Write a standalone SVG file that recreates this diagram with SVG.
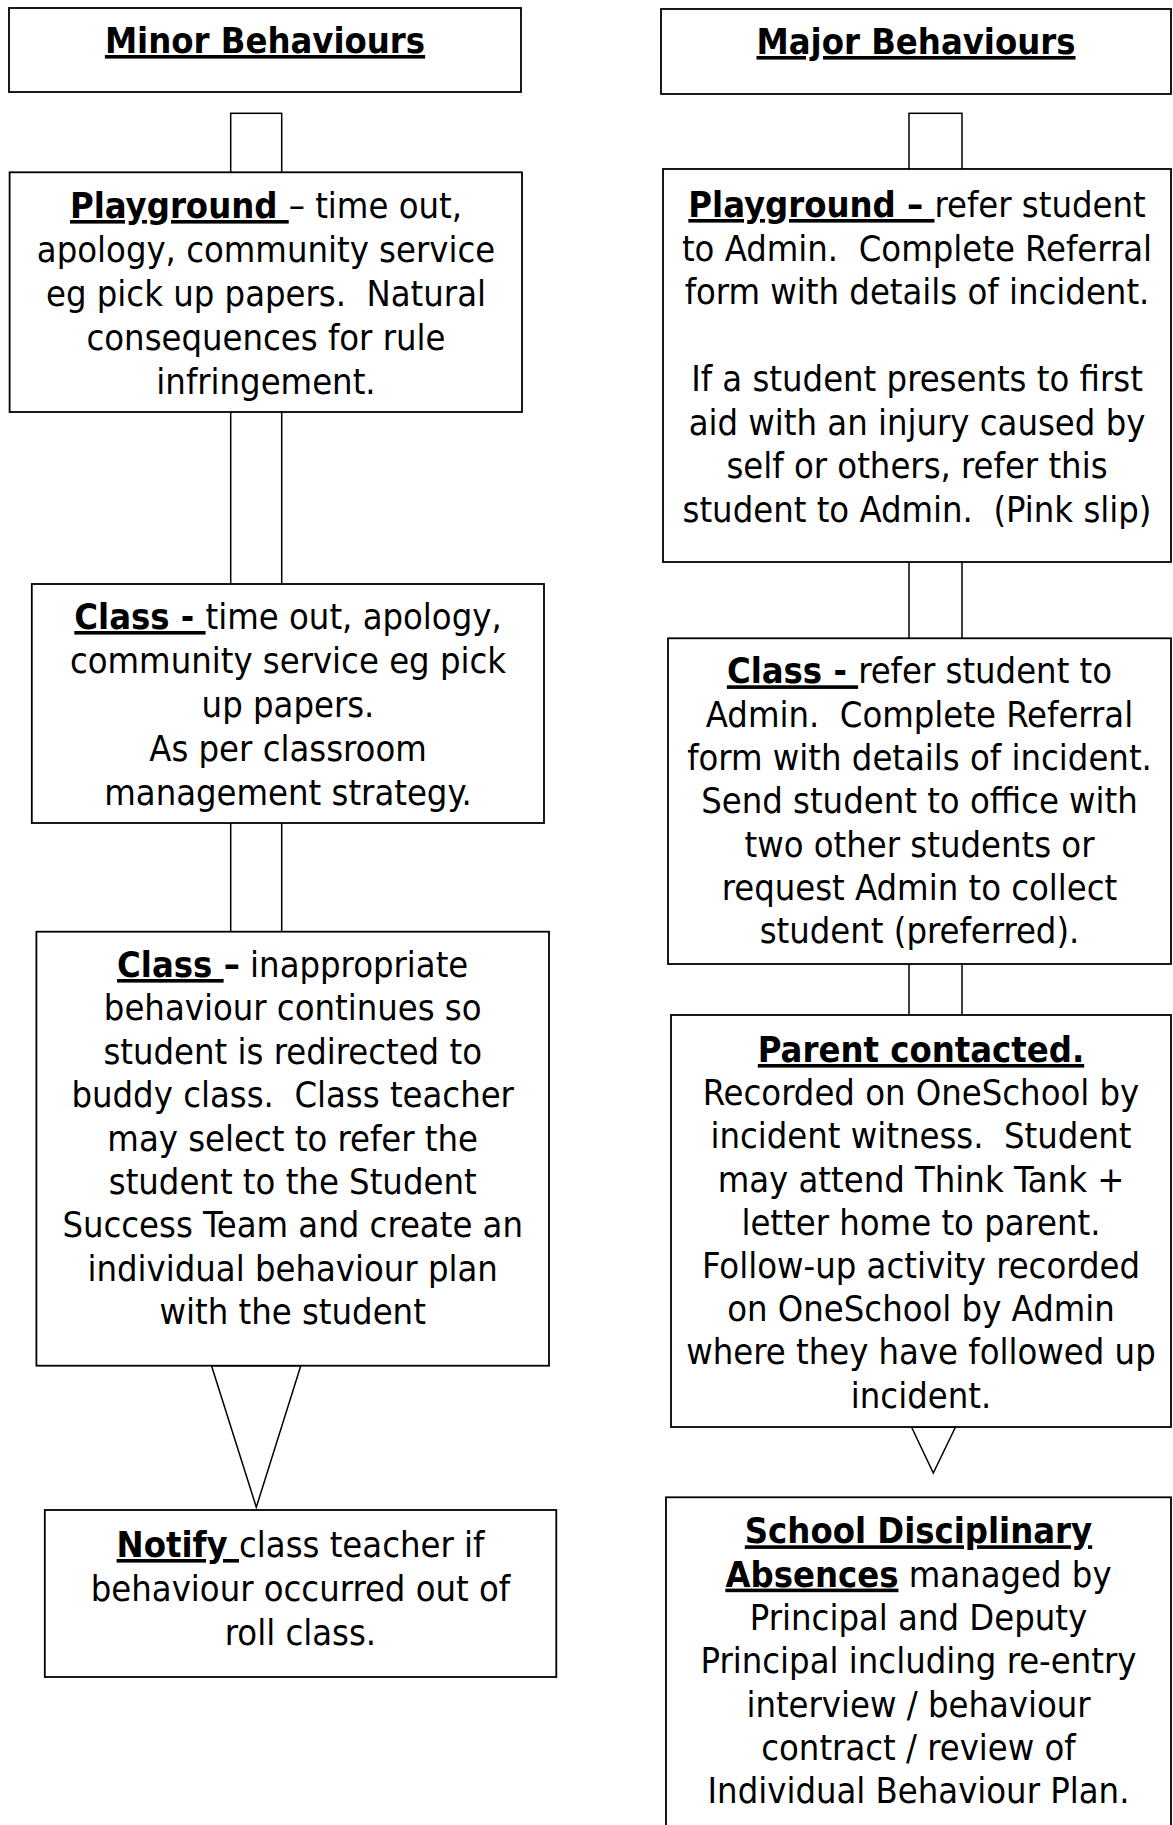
<svg xmlns="http://www.w3.org/2000/svg" width="1173" height="1825" viewBox="0 0 1173 1825">
<style>
.box{fill:#fff;stroke:#000;stroke-width:1.8}
.con{fill:#fff;stroke:#000;stroke-width:1.5}
text{font-family:"DejaVu Sans Condensed","DejaVu Sans",sans-serif;font-stretch:condensed;font-size:36px;fill:#000;text-anchor:middle}
.b{font-weight:bold}
.u{text-decoration:underline}
</style>
<rect x="0" y="0" width="1173" height="1825" fill="#fff"/>
<g id="connectors">
<rect class="con" x="230.7" y="113.3" width="51" height="80"/>
<rect class="con" x="230.7" y="390" width="51" height="210"/>
<rect class="con" x="230.7" y="800" width="51" height="150"/>
<polygon class="con" points="211.5,1365.7 256.3,1507.3 300.8,1365.7"/>
<rect class="con" x="909" y="113.3" width="53" height="80"/>
<rect class="con" x="909" y="540" width="53" height="120"/>
<rect class="con" x="909" y="940" width="53" height="90"/>
<polygon class="con" points="911.5,1427 933.3,1473 955.5,1427"/>
</g>
<g id="minor-header">
<rect class="box" x="9" y="8" width="512" height="84"/>
<text x="265" y="53" xml:space="preserve"><tspan class="b u">Minor Behaviours</tspan></text>
</g>
<g id="minor-playground">
<rect class="box" x="9.6" y="172.3" width="512.4" height="239.7"/>
<text x="266" y="218" xml:space="preserve"><tspan class="b u">Playground </tspan>– time out,</text>
<text x="266" y="262">apology, community service</text>
<text x="266" y="306" xml:space="preserve">eg pick up papers.  Natural</text>
<text x="266" y="350">consequences for rule</text>
<text x="266" y="394">infringement.</text>
</g>
<g id="minor-class">
<rect class="box" x="31.8" y="584" width="512.2" height="239"/>
<text x="288" y="629" xml:space="preserve"><tspan class="b u">Class - </tspan>time out, apology,</text>
<text x="288" y="673">community service eg pick</text>
<text x="288" y="717">up papers.</text>
<text x="288" y="761">As per classroom</text>
<text x="288" y="805">management strategy.</text>
</g>
<g id="minor-class-continues">
<rect class="box" x="36.4" y="931.7" width="512.6" height="434"/>
<text x="292.7" y="977" xml:space="preserve"><tspan class="b u">Class </tspan><tspan class="b">–</tspan> inappropriate</text>
<text x="292.7" y="1020.4">behaviour continues so</text>
<text x="292.7" y="1063.8">student is redirected to</text>
<text x="292.7" y="1107.2" xml:space="preserve">buddy class.  Class teacher</text>
<text x="292.7" y="1150.6">may select to refer the</text>
<text x="292.7" y="1194">student to the Student</text>
<text x="292.7" y="1237.4">Success Team and create an</text>
<text x="292.7" y="1280.8">individual behaviour plan</text>
<text x="292.7" y="1324.2">with the student</text>
</g>
<g id="minor-notify">
<rect class="box" x="44.8" y="1510" width="511.5" height="167"/>
<text x="300.5" y="1557" xml:space="preserve"><tspan class="b u">Notify </tspan>class teacher if</text>
<text x="300.5" y="1601">behaviour occurred out of</text>
<text x="300.5" y="1645">roll class.</text>
</g>
<g id="major-header">
<rect class="box" x="661" y="9" width="510" height="85"/>
<text x="916" y="54" xml:space="preserve"><tspan class="b u">Major Behaviours</tspan></text>
</g>
<g id="major-playground">
<rect class="box" x="663" y="169" width="508" height="393"/>
<text x="917" y="217" xml:space="preserve"><tspan class="b u">Playground – </tspan>refer student</text>
<text x="917" y="260.5" xml:space="preserve">to Admin.  Complete Referral</text>
<text x="917" y="304">form with details of incident.</text>
<text x="917" y="391">If a student presents to first</text>
<text x="917" y="434.5">aid with an injury caused by</text>
<text x="917" y="478">self or others, refer this</text>
<text x="917" y="521.5" xml:space="preserve">student to Admin.  (Pink slip)</text>
</g>
<g id="major-class">
<rect class="box" x="668" y="638.3" width="503" height="325.7"/>
<text x="919.5" y="683.3" xml:space="preserve"><tspan class="b u">Class - </tspan>refer student to</text>
<text x="919.5" y="726.6" xml:space="preserve">Admin.  Complete Referral</text>
<text x="919.5" y="769.9">form with details of incident.</text>
<text x="919.5" y="813.2">Send student to office with</text>
<text x="919.5" y="856.5">two other students or</text>
<text x="919.5" y="899.8">request Admin to collect</text>
<text x="919.5" y="943.1">student (preferred).</text>
</g>
<g id="major-parent">
<rect class="box" x="671" y="1015" width="500" height="412"/>
<text x="921" y="1062"><tspan class="b u">Parent contacted.</tspan></text>
<text x="921" y="1105.2">Recorded on OneSchool by</text>
<text x="921" y="1148.4" xml:space="preserve">incident witness.  Student</text>
<text x="921" y="1191.6">may attend Think Tank +</text>
<text x="921" y="1234.8">letter home to parent.</text>
<text x="921" y="1278">Follow-up activity recorded</text>
<text x="921" y="1321.2">on OneSchool by Admin</text>
<text x="921" y="1364.4">where they have followed up</text>
<text x="921" y="1407.6">incident.</text>
</g>
<g id="major-school">
<rect class="box" x="666" y="1497.3" width="505" height="360"/>
<text x="918.5" y="1543.3"><tspan class="b u">School Disciplinary</tspan></text>
<text x="918.5" y="1586.6" xml:space="preserve"><tspan class="b u">Absences</tspan> managed by</text>
<text x="918.5" y="1629.9">Principal and Deputy</text>
<text x="918.5" y="1673.2">Principal including re-entry</text>
<text x="918.5" y="1716.5">interview / behaviour</text>
<text x="918.5" y="1759.8">contract / review of</text>
<text x="918.5" y="1803.1">Individual Behaviour Plan.</text>
</g>
</svg>
